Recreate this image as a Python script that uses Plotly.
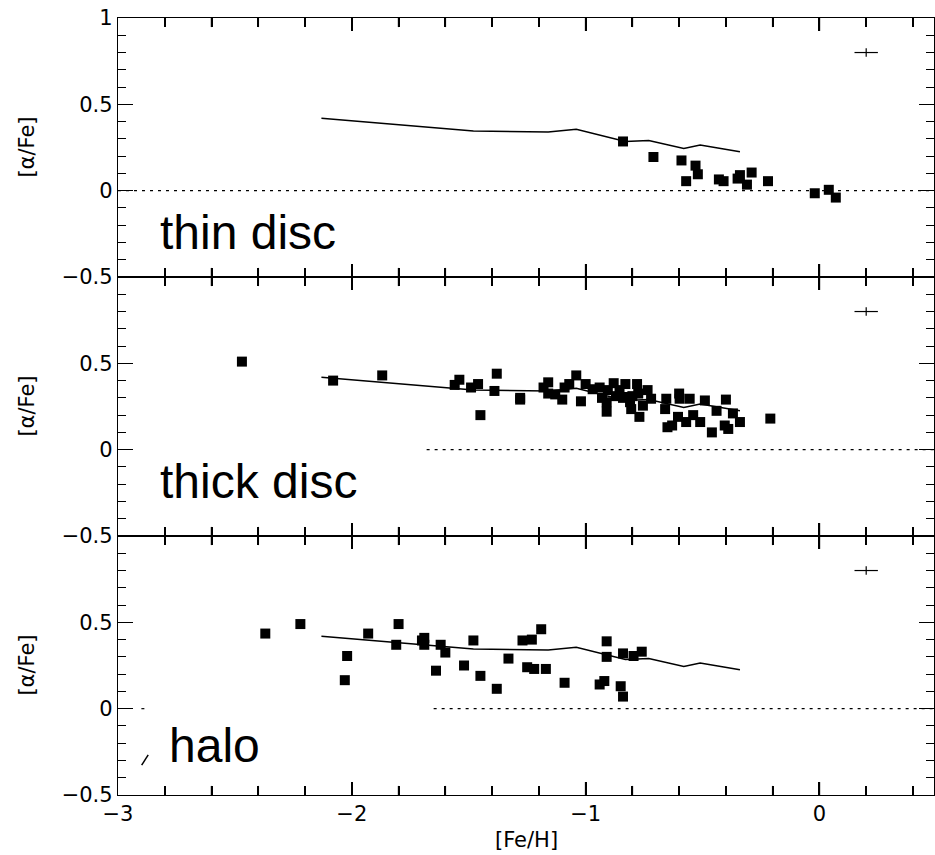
import plotly.graph_objects as go
from plotly.subplots import make_subplots

# ---------------- data ----------------
panel_labels = ["thin disc", "thick disc", "halo"]

thin_feh = [-0.84, -0.71, -0.59, -0.57, -0.53, -0.52, -0.43, -0.41, -0.35, -0.34,
            -0.31, -0.29, -0.22, -0.02, 0.04, 0.07]
thin_alpha = [0.285, 0.195, 0.175, 0.055, 0.145, 0.095, 0.065, 0.055, 0.07, 0.09,
              0.035, 0.105, 0.055, -0.015, 0.005, -0.04]

thick_feh = [-2.47, -2.08, -1.87, -1.56, -1.54, -1.49, -1.46, -1.45, -1.39, -1.38,
             -1.28, -1.28, -1.18, -1.16, -1.16, -1.13, -1.10, -1.09, -1.07, -1.04,
             -1.02, -1.00, -0.97, -0.94, -0.93, -0.91, -0.91, -0.905, -0.88, -0.87,
             -0.855, -0.84, -0.83, -0.825, -0.81, -0.805, -0.80, -0.78, -0.775, -0.77,
             -0.755, -0.735, -0.72, -0.66, -0.655, -0.65, -0.63, -0.605, -0.60, -0.598,
             -0.57, -0.555, -0.54, -0.51, -0.49, -0.46, -0.44, -0.405, -0.40, -0.39,
             -0.37, -0.34, -0.21]
thick_alpha = [0.51, 0.40, 0.43, 0.375, 0.405, 0.36, 0.38, 0.20, 0.34, 0.44,
               0.29, 0.30, 0.36, 0.39, 0.325, 0.32, 0.29, 0.36, 0.38, 0.43,
               0.28, 0.38, 0.35, 0.36, 0.30, 0.275, 0.22, 0.345, 0.385, 0.31,
               0.345, 0.30, 0.38, 0.305, 0.275, 0.235, 0.31, 0.38, 0.325, 0.19,
               0.255, 0.345, 0.295, 0.235, 0.295, 0.13, 0.14, 0.19, 0.325, 0.295,
               0.16, 0.295, 0.20, 0.16, 0.285, 0.10, 0.225, 0.14, 0.29, 0.12,
               0.21, 0.16, 0.18]

halo_feh = [-2.37, -2.22, -2.03, -2.02, -1.93, -1.81, -1.80, -1.70, -1.69, -1.69,
            -1.64, -1.62, -1.60, -1.52, -1.48, -1.45, -1.38, -1.33, -1.27, -1.25,
            -1.23, -1.22, -1.19, -1.17, -1.09, -0.94, -0.92, -0.91, -0.91, -0.85,
            -0.84, -0.84, -0.795, -0.76]
halo_alpha = [0.435, 0.49, 0.165, 0.305, 0.435, 0.37, 0.49, 0.395, 0.41, 0.37,
              0.22, 0.37, 0.325, 0.25, 0.395, 0.19, 0.115, 0.29, 0.395, 0.24,
              0.40, 0.23, 0.46, 0.23, 0.15, 0.14, 0.16, 0.39, 0.30, 0.13,
              0.07, 0.32, 0.305, 0.33]

model_feh = [-2.13, -1.48, -1.16, -1.04, -0.83, -0.73, -0.58, -0.51, -0.34]
model_alpha = [0.42, 0.345, 0.34, 0.355, 0.285, 0.29, 0.245, 0.265, 0.225]

zero_x_thin = [-3.0, 0.5]
zero_x_thick = [-1.68, 0.5]
zero_x_halo = [-2.9, -2.88, None, -1.65, 0.5]

err_feh = [0.2]
err_alpha = [0.8]
err_dfeh = [0.05]
err_dalpha = [0.025]

x_tickvals = [-3, -2, -1, 0]
x_ticktext = ["\u22123", "\u22122", "\u22121", "0"]
x_major_marks = [-2, -1, 0]
x_minor_marks = [-2.8, -2.6, -2.4, -2.2, -1.8, -1.6, -1.4, -1.2,
                 -0.8, -0.6, -0.4, -0.2, 0.2, 0.4]
y_tickvals = [-0.5, 0, 0.5, 1]
y_ticktext_top = ["\u22120.5", "0", "0.5", "1"]
y_ticktext_low = ["\u22120.5", "0", "0.5", ""]

# ---------------- figure ----------------
fig = make_subplots(rows=3, cols=1, shared_xaxes=False, vertical_spacing=0)

panels = [
    (thin_feh, thin_alpha, zero_x_thin),
    (thick_feh, thick_alpha, zero_x_thick),
    (halo_feh, halo_alpha, zero_x_halo),
]

for i, (px, py, zx) in enumerate(panels, start=1):
    fig.add_trace(go.Scatter(x=zx, y=[0 if v is not None else None for v in zx],
                             mode="lines", connectgaps=False,
                             line=dict(color="black", width=1.2, dash="3px,5px"),
                             hoverinfo="skip"), row=i, col=1)
    fig.add_trace(go.Scatter(x=model_feh, y=model_alpha, mode="lines",
                             line=dict(color="black", width=1.5)), row=i, col=1)
    fig.add_trace(go.Scatter(x=px, y=py, mode="markers",
                             marker=dict(symbol="square", size=10, color="black",
                                         line=dict(width=0))), row=i, col=1)
    fig.add_trace(go.Scatter(x=err_feh, y=err_alpha, mode="markers",
                             marker=dict(size=1, color="rgba(0,0,0,0)"),
                             error_x=dict(type="data", array=err_dfeh, width=0,
                                          thickness=1.2, color="black"),
                             error_y=dict(type="data", array=err_dalpha, width=0,
                                          thickness=1.2, color="black")), row=i, col=1)

axis_font = dict(family="DejaVu Sans", size=21, color="black")

for i in range(1, 4):
    fig.update_xaxes(row=i, col=1, range=[-3, 0.49], showgrid=False, zeroline=False,
                     automargin=False,
                     showline=True, linecolor="black", linewidth=1.3, mirror="allticks",
                     ticks="inside", ticklen=13, tickwidth=1.5, tickcolor="black",
                     tickmode="array", tickvals=x_tickvals,
                     ticktext=x_ticktext,
                     showticklabels=(i == 3), tickfont=axis_font,
                     minor=dict(tickmode="linear", tick0=0, dtick=0.2, ticks="inside",
                                ticklen=9, tickwidth=1.5, tickcolor="black",
                                showgrid=False))
    fig.update_yaxes(row=i, col=1, range=[-0.5, 1], showgrid=False, zeroline=False,
                     automargin=False,
                     showline=True, linecolor="black", linewidth=1.3, mirror="ticks",
                     ticks="inside", ticklen=15, tickwidth=1.3, tickcolor="black",
                     tickmode="array", tickvals=y_tickvals,
                     ticktext=y_ticktext_top if i == 1 else y_ticktext_low,
                     tickfont=axis_font,
                     minor=dict(tickmode="linear", tick0=0, dtick=0.1, ticks="inside",
                                ticklen=8, tickwidth=1.3, tickcolor="black",
                                showgrid=False))

# x tick marks on the top and bottom edge of every panel, placed via the x scale
tick_line = dict(color="black", width=1.5)
for i in range(1, 4):
    xr = "x" if i == 1 else f"x{i}"
    yr = "y domain" if i == 1 else f"y{i} domain"
    for v, h in [(m, 0.050) for m in x_major_marks] + [(m, 0.035) for m in x_minor_marks]:
        fig.add_shape(type="line", xref=xr, yref=yr, x0=v, x1=v, y0=0, y1=h,
                      line=tick_line, layer="above")
        fig.add_shape(type="line", xref=xr, yref=yr, x0=v, x1=v, y0=1 - h, y1=1,
                      line=tick_line, layer="above")

# panel labels
label_y = [0.17, 0.21, 0.19]
label_x = [0.049, 0.049, 0.06]
for i, (lab, ly, lx) in enumerate(zip(panel_labels, label_y, label_x), start=1):
    yref = "y domain" if i == 1 else f"y{i} domain"
    xref = "x domain" if i == 1 else f"x{i} domain"
    fig.add_annotation(text=lab, xref=xref, yref=yref, x=lx, y=ly,
                       xanchor="left", yanchor="middle", showarrow=False,
                       font=dict(family="Liberation Sans", size=48, color="black"))
    fig.add_annotation(text="[\u03b1/Fe]", xref="paper", yref=yref, x=-0.1126, y=0.5,
                       xanchor="center", yanchor="middle", textangle=-90,
                       showarrow=False,
                       font=dict(family="DejaVu Sans", size=21, color="black"))

# small stray stroke in the halo panel
fig.add_shape(type="line", xref="x3 domain", yref="y3 domain",
              x0=0.029, y0=0.115, x1=0.037, y1=0.155,
              line=dict(color="black", width=1.5))

fig.add_annotation(text="[Fe/H]", xref="paper", yref="paper", x=0.5, y=-0.058,
                   xanchor="center", yanchor="middle", showarrow=False,
                   font=dict(family="DejaVu Sans", size=21, color="black"))

fig.update_layout(width=935, height=855, showlegend=False,
                  paper_bgcolor="white", plot_bgcolor="white",
                  margin=dict(l=118, r=1, t=18, b=60))

# remove the default page margin so the figure fills the window exactly
fig.write_html("out.html",
               config={"displayModeBar": False},
               post_script="document.body.style.margin='0';"
                           "document.body.style.overflow='hidden';")
